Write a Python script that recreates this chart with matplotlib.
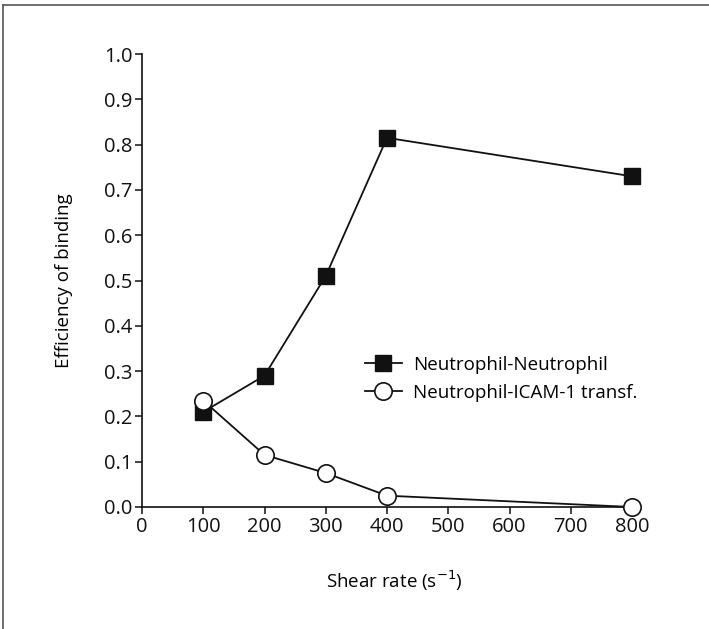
import matplotlib
matplotlib.use("Agg")
import matplotlib.pyplot as plt
from matplotlib.lines import Line2D

plt.rcParams['font.family'] = ['Open Sans', 'DejaVu Sans']

shear_rate = [100, 200, 300, 400, 800]
neutrophil_neutrophil = [0.21, 0.29, 0.51, 0.815, 0.73]
neutrophil_icam = [0.235, 0.115, 0.075, 0.025, 0.0]
x_ticks = [0, 100, 200, 300, 400, 500, 600, 700, 800]
y_ticks = [0.0, 0.1, 0.2, 0.3, 0.4, 0.5, 0.6, 0.7, 0.8, 0.9, 1.0]

FS = 14.5
FS_TEXT = 13.5

fig = plt.figure(figsize=(7.09, 6.29), dpi=100)
ax = fig.add_axes([142 / 709, 1 - 507 / 629, 490 / 709, 453 / 629])

ax.plot(shear_rate, neutrophil_neutrophil, color='#111111', lw=1.3,
        marker='s', ms=11.5, mfc='#111111', mec='#111111',
        label='Neutrophil-Neutrophil', zorder=3, clip_on=False)
ax.plot(shear_rate, neutrophil_icam, color='#111111', lw=1.3,
        marker='o', ms=12.5, mfc='white', mec='#111111', mew=1.2,
        label='Neutrophil-ICAM-1 transf.', zorder=4, clip_on=False)

ax.set_xlim(0, 800)
ax.set_ylim(0, 1.0)
ax.set_xticks(x_ticks)
ax.set_xticklabels([str(v) for v in x_ticks])
ax.set_yticks(y_ticks)
ax.set_yticklabels([f"{v:.1f}" for v in y_ticks])

for side in ('top', 'right'):
    ax.spines[side].set_visible(False)
for side in ('left', 'bottom'):
    ax.spines[side].set_linewidth(1.2)
    ax.spines[side].set_color('#111111')
ax.tick_params(axis='both', direction='out', length=5, width=1.1,
               labelsize=FS, colors='#111111', pad=2)

ax.set_xlabel('Shear rate (s$^{-1}$)', fontsize=FS_TEXT)
ax.xaxis.set_label_coords(0.515, -0.135)
ax.set_ylabel('Efficiency of binding', fontsize=FS_TEXT, labelpad=22)

ax.legend(loc='center left', bbox_to_anchor=(0.455, 0.283), frameon=False,
          fontsize=FS_TEXT, handlelength=1.95, handletextpad=0.6,
          labelspacing=0.55, borderaxespad=0, borderpad=0)

# outer frame lines along the top and left edges
fig.add_artist(Line2D([3 / 709, 1.0], [1 - 5 / 629, 1 - 5 / 629],
                      transform=fig.transFigure, color='#555555', lw=1.2))
fig.add_artist(Line2D([3 / 709, 3 / 709], [0.0, 1 - 5 / 629],
                      transform=fig.transFigure, color='#555555', lw=1.2))

fig.savefig('out.png', dpi=100)
